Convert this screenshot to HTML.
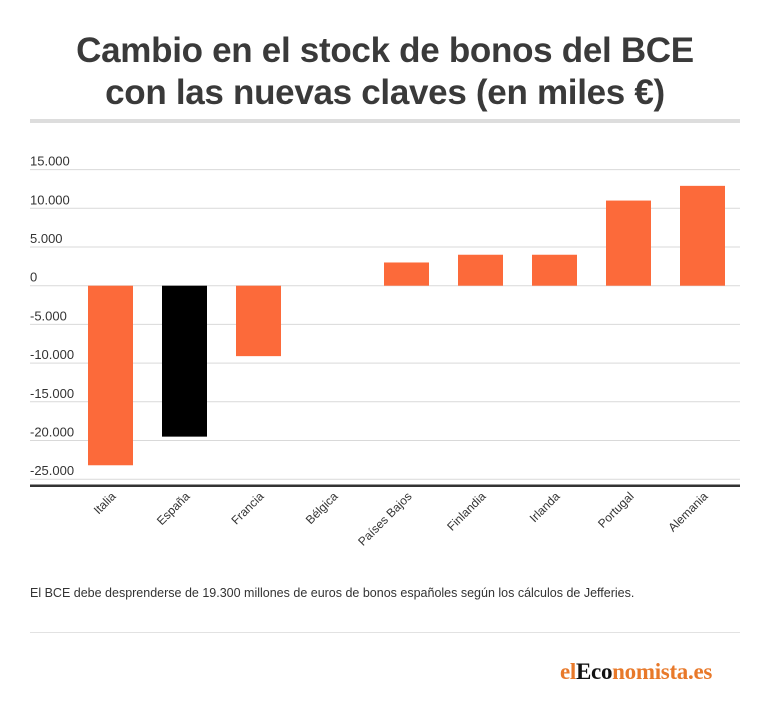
<!DOCTYPE html>
<html><head><meta charset="utf-8"><style>
body{margin:0;background:#fff;width:770px;height:715px;overflow:hidden;font-family:"Liberation Sans",sans-serif;position:relative}
#title{position:absolute;left:0;top:30px;width:770px;text-align:center;font-weight:bold;font-size:35px;line-height:42px;color:#3a3a3a;letter-spacing:-0.3px}
#sep{position:absolute;left:30px;top:119px;width:710px;height:4px;background:#ddd}
#note{position:absolute;left:30px;top:586px;font-size:12.5px;color:#333}
#sep2{position:absolute;left:30px;top:632px;width:710px;height:1px;background:#e2e2e2}
#logo{position:absolute;left:560px;top:659px;font-family:"Liberation Serif",serif;font-weight:bold;font-size:23px;color:#e8792a;letter-spacing:-0.3px}
#logo span{color:#111}
</style></head><body>
<div id="title">Cambio en el stock de bonos del BCE<br>con las nuevas claves (en miles €)</div>
<div id="sep"></div>
<svg id="chart" width="770" height="580" style="position:absolute;left:0;top:0"></svg>
<div id="note">El BCE debe desprenderse de 19.300 millones de euros de bonos españoles según los cálculos de Jefferies.</div>
<div id="sep2"></div>
<div id="logo">el<span>Eco</span>nomista.es</div>
<script>
const categories=["Italia","España","Francia","Bélgica","Países Bajos","Finlandia","Irlanda","Portugal","Alemania"];
const values=[-23200,-19500,-9100,0,3000,4000,4000,11000,12900];
const ticks=[15000,10000,5000,0,-5000,-10000,-15000,-20000,-25000];
const tickLabels=["15.000","10.000","5.000","0","-5.000","-10.000","-15.000","-20.000","-25.000"];
const NS="http://www.w3.org/2000/svg";
const svg=document.getElementById('chart');
const y=v=>285.7-(v/5000)*38.7;
const x=i=>88+i*74;
const bw=45;
function mk(t,a){const e=document.createElementNS(NS,t);for(const k in a)e.setAttribute(k,a[k]);svg.appendChild(e);return e;}
ticks.forEach((t,i)=>{
  const l=mk('line',{x1:30,x2:740,y1:y(t),y2:y(t),stroke:'#d9d9d9','stroke-width':1});
  
  
  const tx=mk('text',{x:30,y:y(t)-4,'font-size':13,fill:'#333','font-family':'Liberation Sans, sans-serif'});
  tx.textContent=tickLabels[i];
  
  
});
values.forEach((v,i)=>{
  const top=Math.min(y(v),y(0)),h=Math.abs(y(v)-y(0));
  const r=mk('rect',{x:x(i),y:top,width:bw,height:h,fill:categories[i]==="España"?'#000':'#fc6a3a'});
  
  
  const cx=x(i)+bw/2+6,cy=497;
  const t=mk('text',{x:cx,y:cy,'font-size':12,fill:'#333','text-anchor':'end','font-family':'Liberation Sans, sans-serif',transform:`rotate(-45 ${cx} ${cy})`});
  t.textContent=categories[i];
  
  
});
const ax=mk('line',{x1:30,x2:740,y1:485.7,y2:485.7,stroke:'#333','stroke-width':2.5});


</script>
</body></html>
